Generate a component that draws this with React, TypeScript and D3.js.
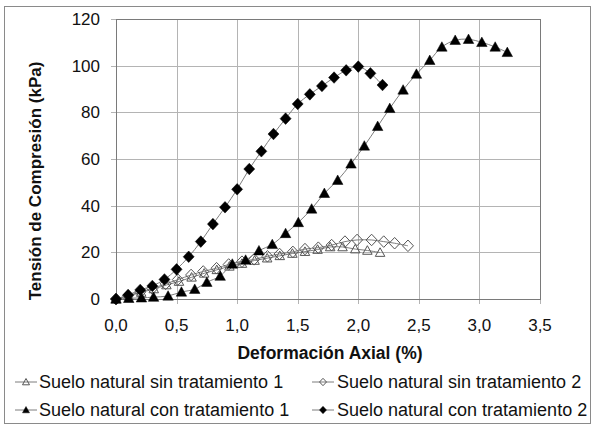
import React from "react";
import * as d3 from "d3";

const sinTrat1X = [0, 0.104, 0.208, 0.312, 0.416, 0.52, 0.624, 0.728, 0.832, 0.936, 1.04, 1.144, 1.248, 1.352, 1.456, 1.56, 1.664, 1.768, 1.87, 1.975, 2.075, 2.18];
const sinTrat1Y = [0, 1.3, 2.8, 4.3, 6, 7.5, 9.3, 11, 12.5, 14, 15.2, 16.5, 17.5, 18.5, 19.5, 20.3, 21.2, 22.3, 22.3, 21.4, 20.8, 19.9];

const sinTrat2X = [0, 0.1, 0.2, 0.3, 0.41, 0.51, 0.62, 0.72, 0.83, 0.93, 1.04, 1.14, 1.25, 1.35, 1.46, 1.56, 1.67, 1.78, 1.89, 1.99, 2.11, 2.21, 2.3, 2.41];
const sinTrat2Y = [0, 1.5, 3, 4.5, 6.5, 8.3, 10.3, 11.8, 13.2, 14.8, 16, 17, 18.3, 19.3, 20.2, 21.4, 22, 23.1, 24.6, 25.3, 25.3, 24.6, 23.9, 22.8];

const conTrat1X = [0, 0.105, 0.21, 0.31, 0.43, 0.54, 0.65, 0.75, 0.86, 0.96, 1.07, 1.18, 1.29, 1.4, 1.505, 1.615, 1.72, 1.83, 1.94, 2.05, 2.16, 2.26, 2.37, 2.48, 2.59, 2.69, 2.8, 2.91, 3.02, 3.13, 3.23];
const conTrat1Y = [0, 0.3, 0.5, 0.8, 1.3, 3, 4.2, 7.2, 9.8, 15, 16.7, 20.7, 23.4, 28.1, 32.8, 38.6, 45.3, 50.9, 57.9, 65.6, 74, 81.7, 89.6, 96.4, 102.3, 108, 110.9, 111.3, 110, 108, 105.7];

const conTrat2X = [0, 0.1, 0.2, 0.3, 0.4, 0.5, 0.6, 0.7, 0.8, 0.9, 1.0, 1.1, 1.2, 1.3, 1.4, 1.5, 1.6, 1.7, 1.8, 1.9, 2.0, 2.1, 2.2];
const conTrat2Y = [0, 1.7, 3.9, 5.6, 8.4, 12.7, 18.1, 24.6, 32.1, 39.3, 47, 55.7, 63.3, 70.7, 77.3, 83.6, 87.7, 91.3, 94.9, 98, 99.6, 96.7, 91.7];

const seriesNames = [
  "Suelo natural sin tratamiento 1",
  "Suelo natural sin tratamiento 2",
  "Suelo natural con tratamiento 1",
  "Suelo natural con tratamiento 2",
];

const xTicks = [0, 0.5, 1, 1.5, 2, 2.5, 3, 3.5];
const yTicks = [0, 20, 40, 60, 80, 100, 120];

const xTitle = "Deformación Axial (%)";
const yTitle = "Tensión de Compresión (kPa)";

type Kind = "tri" | "dia";

const FONT = "'Liberation Sans', Arial, sans-serif";

function Marker({ x, y, kind, filled, s }: { x: number; y: number; kind: Kind; filled: boolean; s: number }) {
  const h = s / 2;
  let d: string;
  if (kind === "dia") {
    d = `M${x},${y - h * 1.05}L${x + h},${y}L${x},${y + h * 1.05}L${x - h},${y}Z`;
  } else {
    d = `M${x},${y - h}L${x + h},${y + h * 0.8}L${x - h},${y + h * 0.8}Z`;
  }
  return (
    <path
      d={d}
      fill={filled ? "#000" : "#fff"}
      fillOpacity={filled ? 1 : 0}
      stroke={filled ? "#000" : "#555"}
      strokeWidth={filled ? 0.5 : 1}
    />
  );
}

export default function App() {
  const W = 595;
  const H = 426;
  const left = 116;
  const right = 540;
  const top = 19;
  const bottom = 299;

  const x = d3.scaleLinear().domain([0, 3.5]).range([left, right]);
  const y = d3.scaleLinear().domain([0, 120]).range([bottom, top]);

  const series = [
    { xs: sinTrat1X, ys: sinTrat1Y, kind: "tri" as Kind, filled: false, s: 9.5 },
    { xs: sinTrat2X, ys: sinTrat2Y, kind: "dia" as Kind, filled: false, s: 11 },
    { xs: conTrat1X, ys: conTrat1Y, kind: "tri" as Kind, filled: true, s: 10.5 },
    { xs: conTrat2X, ys: conTrat2Y, kind: "dia" as Kind, filled: true, s: 11 },
  ];

  const line = d3
    .line<[number, number]>()
    .x((d) => x(d[0]))
    .y((d) => y(d[1]))
    .curve(d3.curveCatmullRom.alpha(0.5));

  const fmt = (v: number) => v.toFixed(1).replace(".", ",");

  const legendPos = [
    { lx: 15, tx: 39, cy: 382 },
    { lx: 312, tx: 337, cy: 382 },
    { lx: 15, tx: 39, cy: 410 },
    { lx: 312, tx: 337, cy: 410 },
  ];

  return (
    <svg width={W} height={H} style={{ position: "absolute", left: 0, top: 0, background: "#fff" }} fontFamily={FONT}>
      <rect x={0} y={0} width={W} height={H} fill="#fff" />
      <rect x={4.5} y={6.5} width={586} height={417} fill="none" stroke="#8a8a8a" strokeWidth={1} />

      {/* grid */}
      {xTicks.map((t) => (
        <line key={"gx" + t} x1={Math.round(x(t)) + 0.5} x2={Math.round(x(t)) + 0.5} y1={top} y2={bottom + 5} stroke="#b4b4b4" strokeWidth={1} />
      ))}
      {yTicks.map((t) => (
        <line key={"gy" + t} x1={left - 5} x2={right} y1={Math.round(y(t)) + 0.5} y2={Math.round(y(t)) + 0.5} stroke="#b4b4b4" strokeWidth={1} />
      ))}
      <rect x={left + 0.5} y={top + 0.5} width={right - left} height={bottom - top} fill="none" stroke="#7a7a7a" strokeWidth={1} />

      {/* tick labels */}
      {yTicks.map((t) => (
        <text key={"ty" + t} x={100} y={y(t) + 6} textAnchor="end" fontSize={17} fill="#111">
          {t}
        </text>
      ))}
      {xTicks.map((t) => (
        <text key={"tx" + t} x={x(t)} y={331} textAnchor="middle" fontSize={17} fill="#111">
          {fmt(t)}
        </text>
      ))}

      <text x={(left + right) / 2 + 2} y={359} textAnchor="middle" fontSize={17.5} fontWeight="bold" fill="#111">
        {xTitle}
      </text>
      <text transform={`translate(41,181) rotate(-90)`} textAnchor="middle" fontSize={17} fontWeight="bold" fill="#111">
        {yTitle}
      </text>

      {/* series */}
      {series.map((s, i) => {
        const pts = s.xs.map((v, j) => [v, s.ys[j]] as [number, number]);
        return (
          <g key={"s" + i}>
            <path d={line(pts) || ""} fill="none" stroke="#7d7d7d" strokeWidth={1} />
            {pts.map((p, j) => (
              <Marker key={j} x={x(p[0])} y={y(p[1])} kind={s.kind} filled={s.filled} s={s.s} />
            ))}
          </g>
        );
      })}

      {/* legend */}
      {series.map((s, i) => {
        const p = legendPos[i];
        return (
          <g key={"l" + i}>
            <line x1={p.lx} x2={p.lx + 22} y1={p.cy} y2={p.cy} stroke="#7d7d7d" strokeWidth={1} />
            <Marker x={p.lx + 11} y={p.cy} kind={s.kind} filled={s.filled} s={7} />
            <text x={p.tx} y={p.cy + 6} fontSize={18} fill="#111">
              {seriesNames[i]}
            </text>
          </g>
        );
      })}
    </svg>
  );
}
